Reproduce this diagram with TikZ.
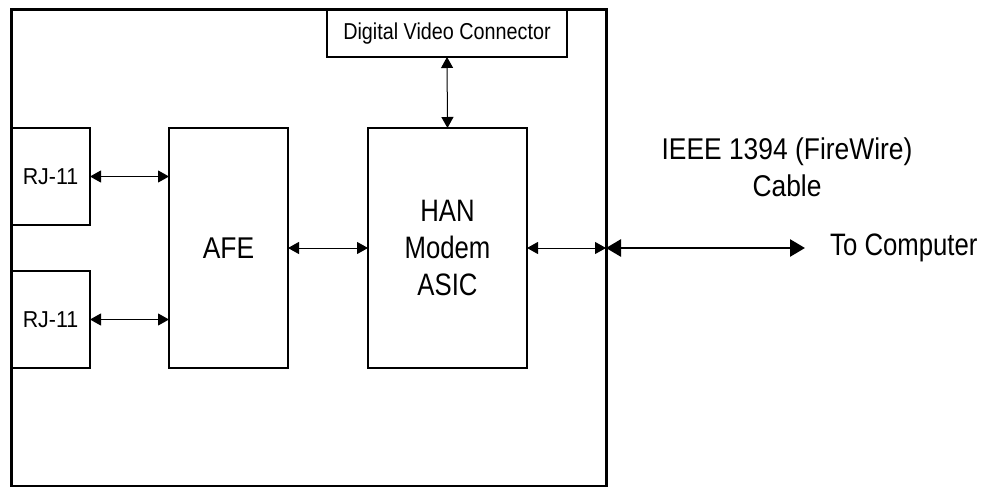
\documentclass[tikz,border=0pt]{standalone}
\usepackage{fontspec}
\setmainfont{Liberation Sans}
\newfontfamily\fBig[FakeStretch=0.83]{Liberation Sans}
\newfontfamily\fMid[FakeStretch=0.88]{Liberation Sans}
\newfontfamily\fRj[FakeStretch=0.93]{Liberation Sans}
\newfontfamily\fSm[FakeStretch=0.86]{Liberation Sans}
\usetikzlibrary{arrows.meta}
\begin{document}
\begin{tikzpicture}[x=1pt,y=-1pt,
  blk/.style={draw,line width=1.2pt,inner sep=0pt,outer sep=0pt,align=center},
  conn/.style={line width=1pt,{Triangle[length=11pt,width=12pt]}-{Triangle[length=11pt,width=12pt]}},
  bigconn/.style={line width=2.7pt,{Triangle[length=15pt,width=17pt]}-{Triangle[length=15pt,width=17pt]}},
  hantxt/.style={font=\fBig\fontsize{31}{37}\selectfont},
  afetxt/.style={font=\fMid\fontsize{30}{36}\selectfont},
  rjtxt/.style={font=\fRj\fontsize{23}{27}\selectfont},
  dvctxt/.style={font=\fSm\fontsize{23}{27}\selectfont}]
\useasboundingbox (0,0) rectangle (983,487);
\node[draw,line width=3pt,inner sep=0pt,outer sep=0pt,minimum width=595pt,minimum height=477pt] (outer) at (308.5,248) {};
\node[blk,minimum width=240pt,minimum height=47pt,dvctxt] (dvc) at (447,33.5) {Digital Video Connector};
\node[blk,minimum width=79pt,minimum height=97pt,rjtxt] (rj1) at (50.5,176.5) {RJ-11};
\node[blk,minimum width=79pt,minimum height=97pt,rjtxt] (rj2) at (50.5,319.5) {RJ-11};
\node[blk,minimum width=119pt,minimum height=240pt,afetxt] (afe) at (228.5,248) {AFE};
\node[blk,minimum width=159pt,minimum height=240pt,hantxt] (han) at (447.5,248) {HAN\\Modem\\ASIC};
\coordinate (pc) at (805,248);
\node[hantxt,anchor=west,inner sep=0pt] (tocomp) at (830,248) {To Computer};
\node[align=center,inner sep=0pt,font=\fMid\fontsize{30}{37}\selectfont] (ieee) at (787,167) {IEEE 1394 (FireWire)\\Cable};
\draw[conn] (dvc.south) -- (han.north);
\draw[conn] (rj1.east) -- (rj1.east -| afe.west);
\draw[conn] (rj2.east) -- (rj2.east -| afe.west);
\draw[conn] (afe.east) -- (han.west);
\draw[conn] (han.east) -- (han.east -| outer.east);
\draw[bigconn] (han.east -| outer.east) -- (pc);
\end{tikzpicture}
\end{document}
